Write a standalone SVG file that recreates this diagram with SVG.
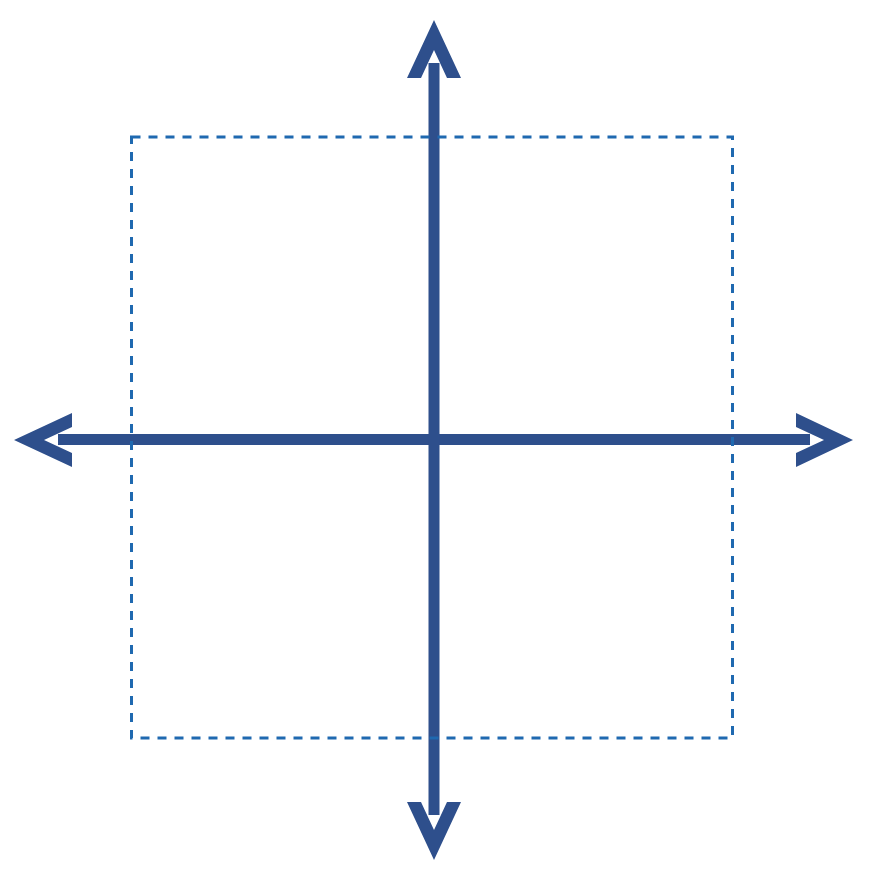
<svg xmlns="http://www.w3.org/2000/svg" width="872" height="872" viewBox="0 0 872 872">
<style>
.axis{stroke:#2E4F8C;stroke-width:11;fill:none}
.head{fill:#2E4F8C;stroke:none}
.box{fill:none;stroke:#1F69B0;stroke-width:3;stroke-dasharray:9 8}
</style>
<rect width="872" height="872" fill="#ffffff"/>
<g id="connectors">
<line class="axis" x1="58" y1="439.5" x2="810" y2="439.5"/>
<line class="axis" x1="434" y1="63" x2="434" y2="815"/>
<polygon class="head" points="14,440 72,413 72,427 44,440 72,453 72,467"/>
<polygon class="head" points="853,440 796,413 796,427 824,440 796,453 796,467"/>
<polygon class="head" points="434,20 461,78 447,78 434,50 421,78 407,78"/>
<polygon class="head" points="434,860 461,802 447,802 434,830 421,802 407,802"/>
</g>
<g id="box">
<rect class="box" x="131.5" y="137" width="601" height="601"/>
</g>
</svg>
